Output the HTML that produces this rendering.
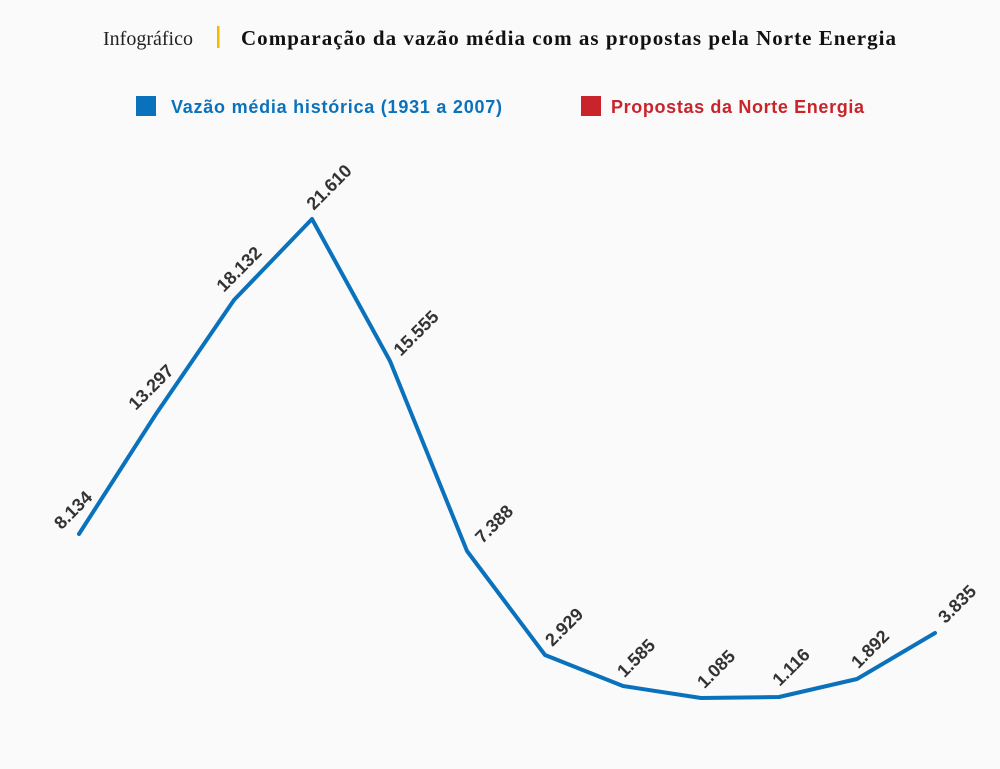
<!DOCTYPE html>
<html><head><meta charset="utf-8"><style>
html,body{margin:0;padding:0;background:#fafafa;}
</style></head><body>
<svg width="1000" height="769" xmlns="http://www.w3.org/2000/svg" style="display:block">
<rect width="1000" height="769" fill="#fafafa"/>
<text x="103" y="45" font-family="Liberation Serif, serif" font-size="20" fill="#222">Infográfico</text>
<rect x="217" y="26" width="2.5" height="22" fill="#f5b800"/>
<text x="241" y="45" font-family="Liberation Serif, serif" font-weight="bold" font-size="21" fill="#111" textLength="655" lengthAdjust="spacing">Comparação da vazão média com as propostas pela Norte Energia</text>
<rect x="136" y="96" width="20" height="20" fill="#0a72bd"/>
<text x="171" y="113" font-family="Liberation Sans, sans-serif" font-weight="bold" font-size="18" fill="#0a72bd" textLength="331" lengthAdjust="spacing">Vazão média histórica (1931 a 2007)</text>
<rect x="581" y="96" width="20" height="20" fill="#c9242b"/>
<text x="611" y="113" font-family="Liberation Sans, sans-serif" font-weight="bold" font-size="18" fill="#c9242b" textLength="253" lengthAdjust="spacing">Propostas da Norte Energia</text>
<polyline fill="none" stroke="#0a72bd" stroke-width="4" stroke-linejoin="round" stroke-linecap="round"
points="79,534 156,414 234,300 312,219 390,361 467,551 545,655 623,686 701,698 779,697 857,679 935,633"/>
<g font-family="Liberation Sans, sans-serif" font-weight="bold" font-size="18" fill="#333" text-anchor="middle" dominant-baseline="middle">
<text transform="translate(74,511) rotate(-45)">8.134</text>
<text transform="translate(152,388) rotate(-45)">13.297</text>
<text transform="translate(240,270) rotate(-45)">18.132</text>
<text transform="translate(330,188) rotate(-45)">21.610</text>
<text transform="translate(417,334) rotate(-45)">15.555</text>
<text transform="translate(495,525) rotate(-45)">7.388</text>
<text transform="translate(565,628) rotate(-45)">2.929</text>
<text transform="translate(637,659) rotate(-45)">1.585</text>
<text transform="translate(717,670) rotate(-45)">1.085</text>
<text transform="translate(792,668) rotate(-45)">1.116</text>
<text transform="translate(871,650) rotate(-45)">1.892</text>
<text transform="translate(958,605) rotate(-45)">3.835</text>
</g>
</svg>
</body></html>
